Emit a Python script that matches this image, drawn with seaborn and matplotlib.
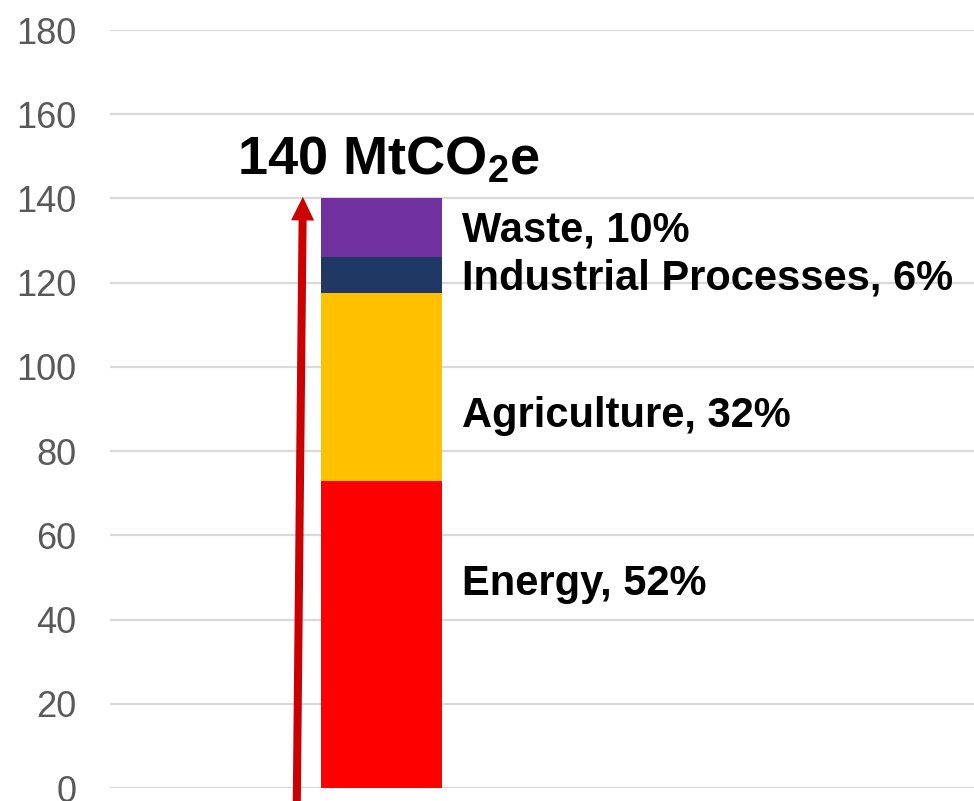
import pandas as pd
import numpy as np
import seaborn as sns
import matplotlib.pyplot as plt

# данные
sectors = ['Energy', 'Agriculture', 'Industrial Processes', 'Waste']
shares = [52, 32, 6, 10]
total = 140
colors = ['#FF0000', '#FFC000', '#203864', '#7030A0']

values = [total * s / 100 for s in shares]
df = pd.DataFrame({'sector': sectors, 'share': shares, 'value': values})
df['top'] = df['value'].cumsum()
df['col'] = 'Total'

sns.set_style('white')
plt.rcParams['font.family'] = ['Liberation Sans', 'DejaVu Sans']
plt.rcParams['mathtext.fontset'] = 'custom'
plt.rcParams['mathtext.bf'] = 'Liberation Sans:bold'
plt.rcParams['mathtext.rm'] = 'Liberation Sans:bold'

fig = plt.figure(figsize=(9.74, 8.01), dpi=100)
ax = fig.add_axes([0.1129, 0.0162, 0.8871, 0.9463])

# stacked bar: рисуем сверху вниз, чтобы нижние перекрывали верхние
for i in reversed(range(len(df))):
    sns.barplot(data=df.iloc[[i]], x='col', y='top', color=colors[i],
                saturation=1, width=0.8, ax=ax, zorder=3, linewidth=0,
                edgecolor='none')

ax.set_ylim(0, 180)
ax.set_yticks(np.arange(0, 181, 20))
ax.set_xlim(-1.795, 3.917)
ax.set_xticks([])
ax.set_xlabel('')
ax.set_ylabel('')
ax.yaxis.grid(True, color='#D9D9D9', lw=1.6, zorder=0)
ax.set_axisbelow(True)
for s in ax.spines.values():
    s.set_visible(False)
ax.tick_params(axis='y', length=0, pad=24, labelsize=26, labelcolor='#595959')

# подписи секторов
label_y = [45.8, 85.7, 118.3, 129.7]
for name, sh, yy in zip(df['sector'], df['share'], label_y):
    ax.text(0.535, yy, f'{name}, {sh}%', fontsize=30, fontweight='bold',
            ha='left', va='baseline', color='black', zorder=4)

# итог и стрелка
ax.text(-0.955, 145.8, r'140 MtCO$_{\mathbf{2}}$e', fontsize=39,
        fontweight='bold', ha='left', va='baseline', color='black')
ax.annotate('', xy=(-0.52, 140.4), xytext=(-0.56, -3.2),
            arrowprops=dict(arrowstyle='simple,head_width=1.66,head_length=1.7,tail_width=0.58',
                            mutation_scale=10, color='#CC0000', lw=0,
                            shrinkA=0, shrinkB=0),
            annotation_clip=False, zorder=5)

fig.savefig('out.png', dpi=100)
